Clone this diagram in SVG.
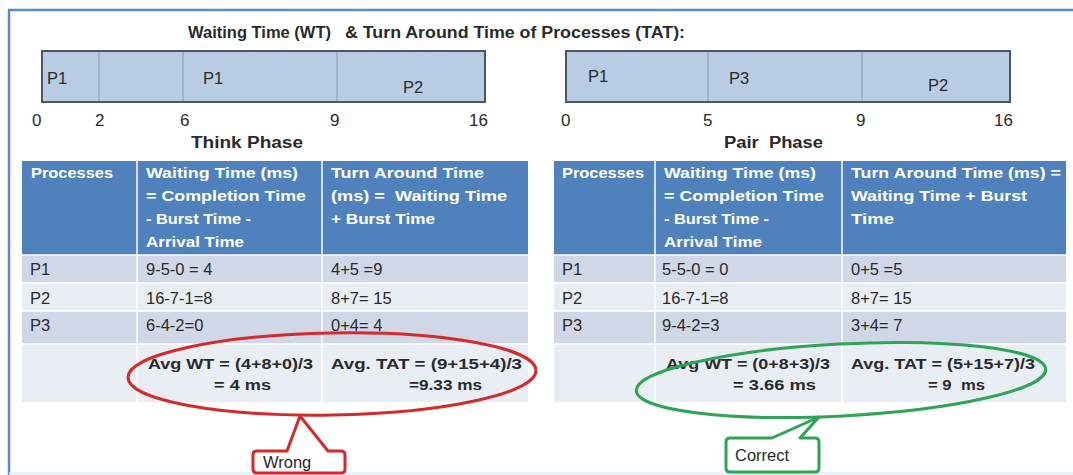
<svg xmlns="http://www.w3.org/2000/svg" width="1073" height="475" viewBox="0 0 1073 475">
<style>
text{font-family:"Liberation Sans",Arial,sans-serif;fill:#2a2a2a}
.ttl{font-size:16px;font-weight:bold}
.gl{font-size:16.5px}
.tk{font-size:17px}
.hd{font-size:15.5px;font-weight:bold;fill:#fff}
.dt{font-size:16.5px}
.av{font-size:15.5px;font-weight:bold}
.gantt{fill:#b8cce4;stroke:#4a5866;stroke-width:2}
.div{stroke:#8aa3c0;stroke-width:1.2}
.hdr{fill:#4f81bd}
.r1{fill:#d0d8e8}
.r2{fill:#e9edf4}
.cl{stroke:#fff;stroke-width:1.5}
.call{fill:#fff;stroke-width:3;stroke-linejoin:round}
</style>
<rect width="1073" height="475" fill="#fff"/>
<g id="frame">
<line x1="8" y1="10" x2="1073" y2="10" stroke="#5a8bd0" stroke-width="2.5"/>
<line x1="9" y1="10" x2="9" y2="475" stroke="#5a8bd0" stroke-width="2.5"/>
<line x1="9" y1="473.5" x2="1073" y2="473.5" stroke="#dcf0fa" stroke-width="2"/>
</g>
<g id="title">
<text class="ttl" x="188" y="38" textLength="143" lengthAdjust="spacingAndGlyphs">Waiting Time (WT)</text>
<text class="ttl" x="345" y="38" textLength="340" lengthAdjust="spacingAndGlyphs">&amp; Turn Around Time of Processes (TAT):</text>
</g>
<g id="gantt-think">
<rect class="gantt" x="42" y="51" width="443" height="51"/>
<line class="div" x1="99" y1="52" x2="99" y2="101"/>
<line class="div" x1="183" y1="52" x2="183" y2="101"/>
<line class="div" x1="337" y1="52" x2="337" y2="101"/>
<text class="gl" x="47" y="84">P1</text>
<text class="gl" x="203" y="84">P1</text>
<text class="gl" x="403" y="93">P2</text>
<text class="tk" x="32" y="126">0</text>
<text class="tk" x="95" y="126">2</text>
<text class="tk" x="180" y="126">6</text>
<text class="tk" x="330" y="126">9</text>
<text class="tk" x="469" y="126">16</text>
</g>
<g id="gantt-pair">
<rect class="gantt" x="566" y="51" width="444" height="51"/>
<line class="div" x1="708" y1="52" x2="708" y2="101"/>
<line class="div" x1="862" y1="52" x2="862" y2="101"/>
<text class="gl" x="588" y="82">P1</text>
<text class="gl" x="729" y="84">P3</text>
<text class="gl" x="928" y="91">P2</text>
<text class="tk" x="561" y="126">0</text>
<text class="tk" x="703" y="126">5</text>
<text class="tk" x="856" y="126">9</text>
<text class="tk" x="994" y="126">16</text>
</g>
<g id="think-label"><text class="ttl" x="191" y="148" textLength="112" lengthAdjust="spacingAndGlyphs">Think Phase</text></g>
<g id="pair-label"><text class="ttl" x="724" y="148" textLength="99" lengthAdjust="spacingAndGlyphs" xml:space="preserve">Pair  Phase</text></g>
<g id="think-table">
<rect class="hdr" x="22" y="161" width="506" height="94"/>
<rect class="r1" x="22" y="255" width="506" height="28"/>
<rect class="r2" x="22" y="283" width="506" height="28"/>
<rect class="r1" x="22" y="311" width="506" height="33"/>
<rect class="r2" x="22" y="344" width="506" height="58"/>
<line class="cl" x1="137" y1="161" x2="137" y2="402"/>
<line class="cl" x1="322" y1="161" x2="322" y2="402"/>
<line class="cl" x1="22" y1="255" x2="528" y2="255"/>
<line class="cl" x1="22" y1="283" x2="528" y2="283"/>
<line class="cl" x1="22" y1="311" x2="528" y2="311"/>
<line class="cl" x1="22" y1="344" x2="528" y2="344"/>
<text class="hd" x="31" y="178" textLength="82" lengthAdjust="spacingAndGlyphs">Processes</text>
<text class="hd" x="146" y="178" textLength="152" lengthAdjust="spacingAndGlyphs">Waiting Time (ms)</text>
<text class="hd" x="146" y="201" textLength="160" lengthAdjust="spacingAndGlyphs">= Completion Time</text>
<text class="hd" x="146" y="224" textLength="105" lengthAdjust="spacingAndGlyphs">- Burst Time -</text>
<text class="hd" x="146" y="247" textLength="98" lengthAdjust="spacingAndGlyphs">Arrival Time</text>
<text class="hd" x="331" y="178" textLength="153" lengthAdjust="spacingAndGlyphs">Turn Around Time</text>
<text class="hd" x="331" y="201" textLength="176" lengthAdjust="spacingAndGlyphs" xml:space="preserve">(ms) =  Waiting Time</text>
<text class="hd" x="331" y="224" textLength="104" lengthAdjust="spacingAndGlyphs">+ Burst Time</text>
<text class="dt" x="30" y="275">P1</text>
<text class="dt" x="146" y="275">9-5-0 = 4</text>
<text class="dt" x="331" y="275">4+5 =9</text>
<text class="dt" x="30" y="304">P2</text>
<text class="dt" x="146" y="304">16-7-1=8</text>
<text class="dt" x="331" y="304">8+7= 15</text>
<text class="dt" x="30" y="331">P3</text>
<text class="dt" x="146" y="331">6-4-2=0</text>
<text class="dt" x="331" y="331">0+4= 4</text>
<text class="av" x="148" y="369" textLength="165" lengthAdjust="spacingAndGlyphs">Avg WT = (4+8+0)/3</text>
<text class="av" x="214" y="390" textLength="57" lengthAdjust="spacingAndGlyphs">= 4 ms</text>
<text class="av" x="331" y="369" textLength="191" lengthAdjust="spacingAndGlyphs">Avg. TAT = (9+15+4)/3</text>
<text class="av" x="409" y="390" textLength="73" lengthAdjust="spacingAndGlyphs">=9.33 ms</text>
</g>
<g id="pair-table">
<rect class="hdr" x="554" y="161" width="512" height="94"/>
<rect class="r1" x="554" y="255" width="512" height="28"/>
<rect class="r2" x="554" y="283" width="512" height="28"/>
<rect class="r1" x="554" y="311" width="512" height="33"/>
<rect class="r2" x="554" y="344" width="512" height="58"/>
<line class="cl" x1="655" y1="161" x2="655" y2="402"/>
<line class="cl" x1="842" y1="161" x2="842" y2="402"/>
<line class="cl" x1="554" y1="255" x2="1066" y2="255"/>
<line class="cl" x1="554" y1="283" x2="1066" y2="283"/>
<line class="cl" x1="554" y1="311" x2="1066" y2="311"/>
<line class="cl" x1="554" y1="344" x2="1066" y2="344"/>
<text class="hd" x="562" y="178" textLength="82" lengthAdjust="spacingAndGlyphs">Processes</text>
<text class="hd" x="664" y="178" textLength="152" lengthAdjust="spacingAndGlyphs">Waiting Time (ms)</text>
<text class="hd" x="664" y="201" textLength="160" lengthAdjust="spacingAndGlyphs">= Completion Time</text>
<text class="hd" x="664" y="224" textLength="105" lengthAdjust="spacingAndGlyphs">- Burst Time -</text>
<text class="hd" x="664" y="247" textLength="98" lengthAdjust="spacingAndGlyphs">Arrival Time</text>
<text class="hd" x="851" y="178" textLength="210" lengthAdjust="spacingAndGlyphs">Turn Around Time (ms) =</text>
<text class="hd" x="851" y="201" textLength="176" lengthAdjust="spacingAndGlyphs">Waiting Time + Burst</text>
<text class="hd" x="851" y="224" textLength="43" lengthAdjust="spacingAndGlyphs">Time</text>
<text class="dt" x="562" y="275">P1</text>
<text class="dt" x="662" y="275">5-5-0 = 0</text>
<text class="dt" x="851" y="275">0+5 =5</text>
<text class="dt" x="562" y="304">P2</text>
<text class="dt" x="662" y="304">16-7-1=8</text>
<text class="dt" x="851" y="304">8+7= 15</text>
<text class="dt" x="562" y="331">P3</text>
<text class="dt" x="662" y="331">9-4-2=3</text>
<text class="dt" x="851" y="331">3+4= 7</text>
<text class="av" x="666" y="369" textLength="164" lengthAdjust="spacingAndGlyphs">Avg WT = (0+8+3)/3</text>
<text class="av" x="733" y="390" textLength="83" lengthAdjust="spacingAndGlyphs">= 3.66 ms</text>
<text class="av" x="851" y="369" textLength="184" lengthAdjust="spacingAndGlyphs">Avg. TAT = (5+15+7)/3</text>
<text class="av" x="928" y="390" textLength="57" lengthAdjust="spacingAndGlyphs" xml:space="preserve">= 9  ms</text>
</g>
<g id="connectors">
<ellipse cx="332" cy="374" rx="204" ry="41" transform="rotate(-1 332 374)" fill="none" stroke="#d42a2a" stroke-width="3"/>
<ellipse cx="841" cy="380" rx="205" ry="36" transform="rotate(-3 841 380)" fill="none" stroke="#2ea456" stroke-width="3"/>
</g>
<g id="wrong-callout">
<path class="call" stroke="#d42a2a" d="M257 451 H287 L300 416 L328 451 H341 Q345 451 345 455 V469 Q345 473 341 473 H257 Q253 473 253 469 V455 Q253 451 257 451 Z"/>
<text class="dt" x="263" y="468">Wrong</text>
</g>
<g id="correct-callout">
<path class="call" stroke="#2ea456" d="M730 438 H772 L819 417 L800 438 H815 Q819 438 819 442 V468 Q819 472 815 472 H730 Q726 472 726 468 V442 Q726 438 730 438 Z"/>
<text class="dt" x="735" y="461">Correct</text>
</g>
</svg>
